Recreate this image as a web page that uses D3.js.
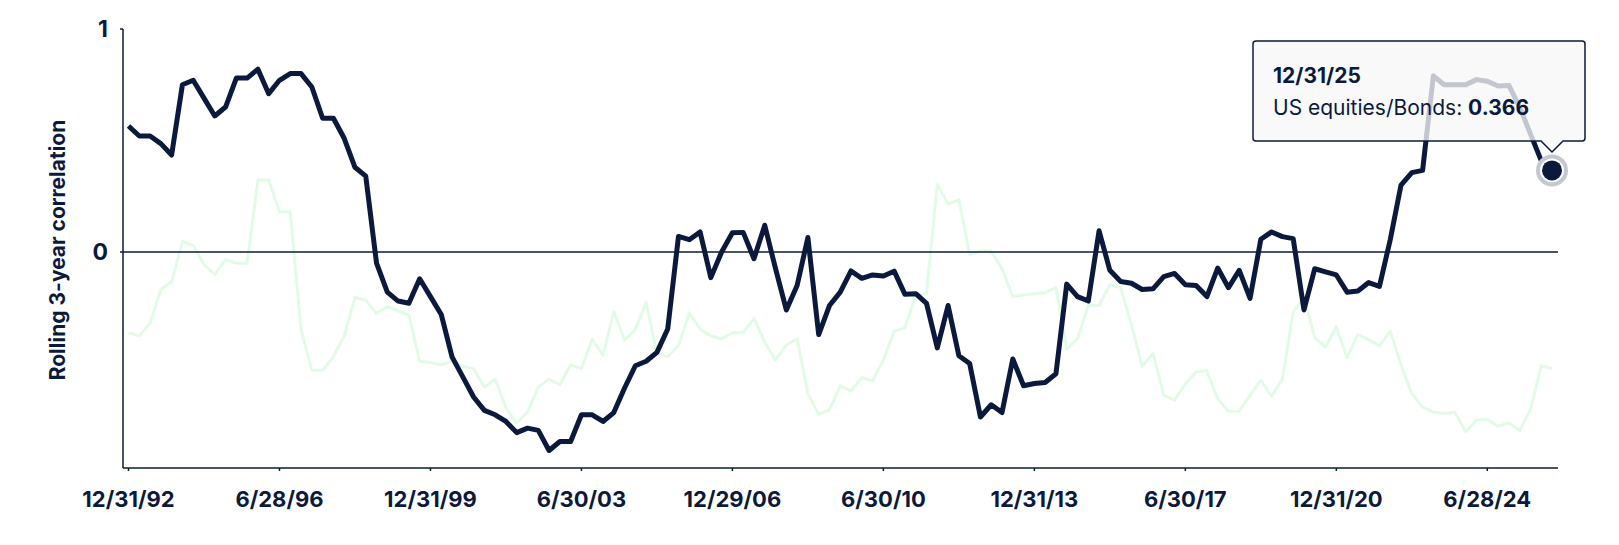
<!DOCTYPE html>
<html><head><meta charset="utf-8">
<script src="https://cdn.jsdelivr.net/npm/d3@7"></script>
<style>body{margin:0;background:#fff}svg{display:block;font-family:Inter,"Noto Sans",sans-serif}</style>
</head><body><svg id="c" width="1619" height="545"></svg>
<script>
const tickLabels=["12/31/92","6/28/96","12/31/99","6/30/03","12/29/06","6/30/10","12/31/13","6/30/17","12/31/20","6/28/24"];
const tickIndex=[0,14,28,42,56,70,84,98,112,126];
const usBonds=[0.565,0.52,0.52,0.486,0.435,0.75,0.77,0.69,0.61,0.65,0.78,0.78,0.82,0.71,0.77,0.8,0.8,0.74,0.6,0.6,
0.51,0.38,0.34,-0.05,-0.18,-0.22,-0.23,-0.12,-0.2,-0.28,-0.47,-0.56,-0.65,-0.71,-0.73,-0.76,-0.81,-0.79,-0.8,-0.89,
-0.85,-0.85,-0.73,-0.73,-0.76,-0.72,-0.61,-0.51,-0.49,-0.45,-0.345,0.07,0.055,0.09,-0.115,0,0.086,0.088,-0.03,0.12,
-0.075,-0.26,-0.15,0.065,-0.37,-0.24,-0.18,-0.085,-0.118,-0.103,-0.108,-0.086,-0.19,-0.187,-0.23,-0.43,-0.24,-0.465,-0.5,-0.74,
-0.685,-0.72,-0.48,-0.6,-0.59,-0.585,-0.546,-0.144,-0.2,-0.22,0.095,-0.082,-0.132,-0.14,-0.168,-0.165,-0.11,-0.096,-0.147,-0.15,
-0.2,-0.072,-0.16,-0.082,-0.208,0.057,0.09,0.069,0.06,-0.26,-0.075,-0.089,-0.103,-0.18,-0.175,-0.137,-0.154,0.055,0.3,0.356,
0.366,0.79,0.75,0.75,0.75,0.773,0.766,0.744,0.747,0.65,0.53,0.41,0.366];
const otherSeries=[-0.362,-0.376,-0.32,-0.168,-0.135,0.047,0.029,-0.057,-0.1,-0.034,-0.05,-0.05,0.323,0.323,0.18,0.18,-0.35,-0.53,-0.53,-0.47,
-0.376,-0.204,-0.215,-0.276,-0.244,-0.264,-0.283,-0.49,-0.496,-0.506,-0.49,-0.513,-0.524,-0.606,-0.57,-0.7,-0.767,-0.718,-0.606,-0.57,
-0.595,-0.506,-0.523,-0.39,-0.463,-0.266,-0.395,-0.348,-0.226,-0.455,-0.47,-0.42,-0.273,-0.345,-0.376,-0.39,-0.362,-0.362,-0.297,-0.405,
-0.484,-0.417,-0.39,-0.635,-0.728,-0.707,-0.6,-0.624,-0.563,-0.578,-0.484,-0.355,-0.34,-0.193,-0.187,0.303,0.215,0.234,-0.01,0.004,
0.004,-0.075,-0.2,-0.193,-0.187,-0.183,-0.158,-0.434,-0.39,-0.24,-0.24,-0.147,-0.158,-0.326,-0.513,-0.455,-0.642,-0.664,-0.592,-0.537,
-0.534,-0.657,-0.714,-0.714,-0.642,-0.575,-0.647,-0.57,-0.27,-0.204,-0.384,-0.427,-0.336,-0.474,-0.37,-0.394,-0.42,-0.355,-0.506,-0.635,
-0.695,-0.718,-0.724,-0.718,-0.807,-0.753,-0.75,-0.782,-0.767,-0.8,-0.707,-0.51,-0.523];
const yTicks=[0,1];
const tipDate="12/31/25", tipLabel="US equities/Bonds: ", tipValue="0.366";

const svg=d3.select("#c");
const dark="#0b1a3c";
const x=d3.scaleLinear().domain([0,usBonds.length-1]).range([128.5,1552]);
const y=d3.scaleLinear().domain([-1,1]).range([475,29]);
const left=123,right=1558,bottom=468;

const line=d3.line().x((d,i)=>x(i)).y(d=>y(d));
svg.append("path").datum(otherSeries).attr("d",line).attr("fill","none")
 .attr("stroke","#e2fbe7").attr("stroke-width",3).attr("stroke-linejoin","round");
svg.append("line").attr("x1",left).attr("x2",right).attr("y1",y(0)).attr("y2",y(0)).attr("stroke",dark).attr("stroke-width",1.5);
svg.append("path").datum(usBonds).attr("d",line).attr("fill","none")
 .attr("stroke",dark).attr("stroke-width",5).attr("stroke-linejoin","round");

svg.append("line").attr("x1",left).attr("x2",left).attr("y1",y(1)).attr("y2",bottom).attr("stroke",dark).attr("stroke-width",1.5);
svg.append("line").attr("x1",left).attr("x2",right).attr("y1",bottom).attr("y2",bottom).attr("stroke",dark).attr("stroke-width",1.5);
yTicks.forEach(t=>{
  svg.append("line").attr("x1",left-3).attr("x2",left).attr("y1",y(t)).attr("y2",y(t)).attr("stroke",dark).attr("stroke-width",1.5);
  svg.append("text").attr("x",108).attr("y",y(t)).attr("dy","0.36em").attr("text-anchor","end")
   .attr("font-size",23).attr("font-weight",700).attr("fill",dark).text(t);
});
tickIndex.forEach((ti,k)=>{
  svg.append("line").attr("x1",x(ti)).attr("x2",x(ti)).attr("y1",bottom).attr("y2",bottom+3).attr("stroke",dark).attr("stroke-width",1.5);
  svg.append("text").attr("x",x(ti)).attr("y",507).attr("text-anchor","middle")
   .attr("font-size",22).attr("font-weight",700).attr("fill",dark).text(tickLabels[k]);
});
svg.append("text").attr("transform",`translate(65,${250}) rotate(-90)`).attr("text-anchor","middle")
 .attr("font-size",21).attr("font-weight",700).attr("fill",dark).text("Rolling 3-year correlation");

const li=usBonds.length-1, px=x(li), py=y(usBonds[li]);
const bx=1253,by=41,bw=332,bh=100;
const g=svg.append("g");
g.append("path").attr("d",`M${bx+3},${by} H${bx+bw-3} Q${bx+bw},${by} ${bx+bw},${by+3} V${by+bh-3} Q${bx+bw},${by+bh} ${bx+bw-3},${by+bh} H${px+11} L${px},${by+bh+11} L${px-11},${by+bh} H${bx+3} Q${bx},${by+bh} ${bx},${by+bh-3} V${by+3} Q${bx},${by} ${bx+3},${by} Z`)
 .attr("fill","#f7f7f7").attr("fill-opacity",0.78).attr("stroke",dark).attr("stroke-width",1.5);
g.append("text").attr("x",bx+20).attr("y",by+42).attr("font-size",21).attr("font-weight",700).attr("fill",dark).text(tipDate);
const t2=g.append("text").attr("x",bx+20).attr("y",by+74).attr("font-size",21).attr("fill",dark);
t2.append("tspan").text(tipLabel);
t2.append("tspan").attr("font-weight",700).text(tipValue);
svg.append("circle").attr("cx",px).attr("cy",py).attr("r",16).attr("fill","#c3c8d1");
svg.append("circle").attr("cx",px).attr("cy",py).attr("r",12).attr("fill","#fff");
svg.append("circle").attr("cx",px).attr("cy",py).attr("r",10).attr("fill",dark);
</script></body></html>
